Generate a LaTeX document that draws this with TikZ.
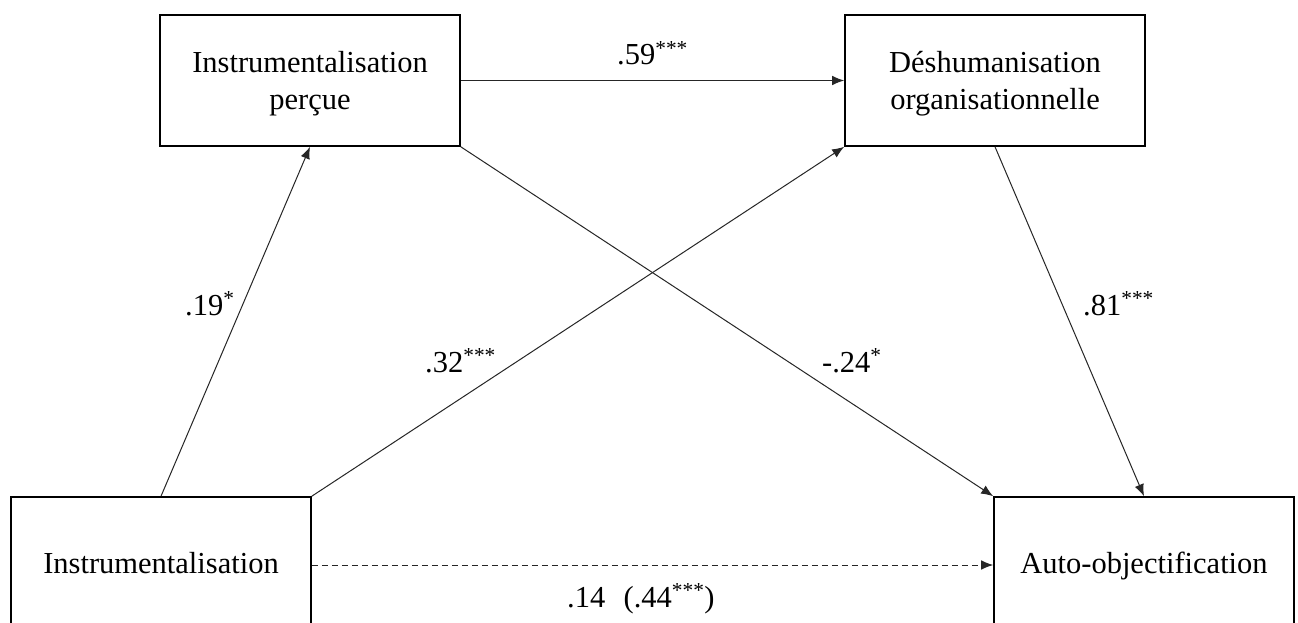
\documentclass[tikz,border=0pt]{standalone}
\usepackage{fontspec}
\setmainfont{Liberation Serif}
\usetikzlibrary{arrows.meta}
\begin{document}
\begin{tikzpicture}[x=1pt,y=-1pt,
  varbox/.style={draw=black, line width=1.6pt, minimum width=300pt, inner sep=0pt, align=center, font=\fontsize{30.5}{37}\selectfont},
  conn/.style={draw=black!85, line width=1pt, -{Latex[length=12pt,width=9.5pt]}},
  coef/.style={anchor=base west, inner sep=0pt, font=\fontsize{30.5}{37}\selectfont}]
\fill[white] (0,0) rectangle (1298,623);
\useasboundingbox (0,0) rectangle (1298,623);
\node[varbox, minimum height=131pt] (A) at (310,80.5) {\rule{0pt}{27pt}Instrumentalisation\\perçue};
\node[varbox, minimum height=131pt] (B) at (995,80.5) {\rule{0pt}{27pt}Déshumanisation\\organisationnelle};
\node[varbox, minimum height=136pt, text height=22pt, text depth=6pt] (C) at (161,565) {Instrumentalisation};
\node[varbox, minimum height=136pt, text height=22pt, text depth=6pt] (D) at (1144,565) {Auto-objectification};
\draw[conn] (A.east) -- (B.west);
\draw[conn] (C.north) -- (A.south);
\draw[conn] (C.north east) -- (B.south west);
\draw[conn] (A.south east) -- (D.north west);
\draw[conn] (B.south) -- (D.north);
\draw[conn, dashed, dash pattern=on 6pt off 4pt] (C.east) -- (D.west);
\node[coef] (l1) at (617,65) {.59\textsuperscript{***}};
\node[coef] (l2) at (185,315) {.19\textsuperscript{*}};
\node[coef] (l3) at (425,372) {.32\textsuperscript{***}};
\node[coef] (l4) at (822,372) {-.24\textsuperscript{*}};
\node[coef] (l5) at (1083,315) {.81\textsuperscript{***}};
\node[coef] (l6) at (567,607) {.14\hspace{0.6em}(.44\textsuperscript{***})};
\end{tikzpicture}
\end{document}
